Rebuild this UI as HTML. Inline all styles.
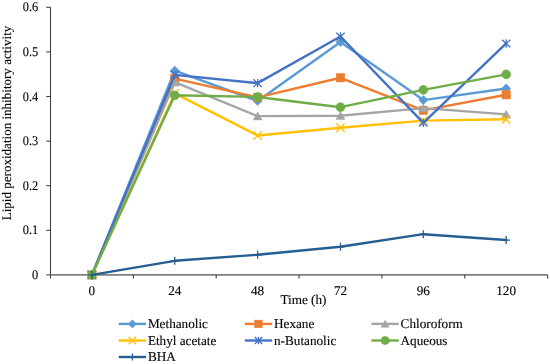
<!DOCTYPE html>
<html><head><meta charset="utf-8"><style>
html,body{margin:0;padding:0;background:#fff;width:550px;height:364px;overflow:hidden}
svg{display:block;will-change:transform}
.t{font-family:"Liberation Serif",serif;font-size:13.2px;fill:#000;stroke:#000;stroke-width:0.12px;text-rendering:geometricPrecision}
.ty{font-family:"Liberation Serif",serif;font-size:13.05px;fill:#000;stroke:#000;stroke-width:0.12px;text-rendering:geometricPrecision}
</style></head><body>
<svg width="550" height="364" viewBox="0 0 550 364">
<line x1="50.5" y1="7.3" x2="50.5" y2="278.6" stroke="#3a3a3a" stroke-width="1.0"/>
<line x1="46.3" y1="274.90" x2="50.5" y2="274.90" stroke="#404040" stroke-width="1.1"/>
<line x1="46.3" y1="230.30" x2="50.5" y2="230.30" stroke="#404040" stroke-width="1.1"/>
<line x1="46.3" y1="185.70" x2="50.5" y2="185.70" stroke="#404040" stroke-width="1.1"/>
<line x1="46.3" y1="141.10" x2="50.5" y2="141.10" stroke="#404040" stroke-width="1.1"/>
<line x1="46.3" y1="96.50" x2="50.5" y2="96.50" stroke="#404040" stroke-width="1.1"/>
<line x1="46.3" y1="51.90" x2="50.5" y2="51.90" stroke="#404040" stroke-width="1.1"/>
<line x1="46.3" y1="7.30" x2="50.5" y2="7.30" stroke="#404040" stroke-width="1.1"/>
<line x1="50.5" y1="274.9" x2="547.60" y2="274.9" stroke="#7f7f7f" stroke-width="1.6"/>
<line x1="133.35" y1="274.9" x2="133.35" y2="278.6" stroke="#404040" stroke-width="1.1"/>
<line x1="216.20" y1="274.9" x2="216.20" y2="278.6" stroke="#404040" stroke-width="1.1"/>
<line x1="299.05" y1="274.9" x2="299.05" y2="278.6" stroke="#404040" stroke-width="1.1"/>
<line x1="381.90" y1="274.9" x2="381.90" y2="278.6" stroke="#404040" stroke-width="1.1"/>
<line x1="464.75" y1="274.9" x2="464.75" y2="278.6" stroke="#404040" stroke-width="1.1"/>
<line x1="547.60" y1="274.9" x2="547.60" y2="278.6" stroke="#404040" stroke-width="1.1"/>
<text transform="translate(38.2,279.00) scale(0.935,1)" text-anchor="end" class="t">0</text>
<text transform="translate(38.2,234.40) scale(0.935,1)" text-anchor="end" class="t">0.1</text>
<text transform="translate(38.2,189.80) scale(0.935,1)" text-anchor="end" class="t">0.2</text>
<text transform="translate(38.2,145.20) scale(0.935,1)" text-anchor="end" class="t">0.3</text>
<text transform="translate(38.2,100.60) scale(0.935,1)" text-anchor="end" class="t">0.4</text>
<text transform="translate(38.2,56.00) scale(0.935,1)" text-anchor="end" class="t">0.5</text>
<text transform="translate(38.2,11.40) scale(0.935,1)" text-anchor="end" class="t">0.6</text>
<text x="91.92" y="294.6" text-anchor="middle" class="t">0</text>
<text x="174.77" y="294.6" text-anchor="middle" class="t">24</text>
<text x="257.62" y="294.6" text-anchor="middle" class="t">48</text>
<text x="340.47" y="294.6" text-anchor="middle" class="t">72</text>
<text x="423.32" y="294.6" text-anchor="middle" class="t">96</text>
<text x="506.17" y="294.6" text-anchor="middle" class="t">120</text>
<text x="303.4" y="304.2" text-anchor="middle" class="t">Time (h)</text>
<text transform="translate(11.2,123) rotate(-90)" text-anchor="middle" class="ty">Lipid peroxidation inhibitory activity</text>
<polyline points="91.92,274.90 174.77,70.63 257.62,100.96 340.47,42.09 423.32,100.07 506.17,88.47" fill="none" stroke="#5B9BD5" stroke-width="2.4" stroke-linejoin="round" stroke-linecap="round"/>
<path d="M91.92 270.30L96.52 274.90L91.92 279.50L87.33 274.90Z" fill="#5B9BD5" stroke="#5B9BD5" stroke-width="0.5"/>
<path d="M174.77 66.03L179.37 70.63L174.77 75.23L170.17 70.63Z" fill="#5B9BD5" stroke="#5B9BD5" stroke-width="0.5"/>
<path d="M257.62 96.36L262.23 100.96L257.62 105.56L253.03 100.96Z" fill="#5B9BD5" stroke="#5B9BD5" stroke-width="0.5"/>
<path d="M340.47 37.49L345.07 42.09L340.47 46.69L335.87 42.09Z" fill="#5B9BD5" stroke="#5B9BD5" stroke-width="0.5"/>
<path d="M423.32 95.47L427.93 100.07L423.32 104.67L418.72 100.07Z" fill="#5B9BD5" stroke="#5B9BD5" stroke-width="0.5"/>
<path d="M506.17 83.87L510.77 88.47L506.17 93.07L501.57 88.47Z" fill="#5B9BD5" stroke="#5B9BD5" stroke-width="0.5"/>
<polyline points="91.92,274.90 174.77,78.66 257.62,97.39 340.47,77.77 423.32,110.33 506.17,94.72" fill="none" stroke="#ED7D31" stroke-width="2.4" stroke-linejoin="round" stroke-linecap="round"/>
<rect x="87.72" y="270.70" width="8.40" height="8.40" fill="#ED7D31" stroke="#ED7D31" stroke-width="0.5"/>
<rect x="170.57" y="74.46" width="8.40" height="8.40" fill="#ED7D31" stroke="#ED7D31" stroke-width="0.5"/>
<rect x="253.43" y="93.19" width="8.40" height="8.40" fill="#ED7D31" stroke="#ED7D31" stroke-width="0.5"/>
<rect x="336.27" y="73.57" width="8.40" height="8.40" fill="#ED7D31" stroke="#ED7D31" stroke-width="0.5"/>
<rect x="419.12" y="106.13" width="8.40" height="8.40" fill="#ED7D31" stroke="#ED7D31" stroke-width="0.5"/>
<rect x="501.97" y="90.52" width="8.40" height="8.40" fill="#ED7D31" stroke="#ED7D31" stroke-width="0.5"/>
<polyline points="91.92,274.90 174.77,82.23 257.62,116.12 340.47,115.68 423.32,108.10 506.17,114.34" fill="none" stroke="#A5A5A5" stroke-width="2.4" stroke-linejoin="round" stroke-linecap="round"/>
<path d="M91.92 270.90L96.42 278.70L87.42 278.70Z" fill="#A5A5A5" stroke="#A5A5A5" stroke-width="0.5"/>
<path d="M174.77 78.23L179.27 86.03L170.27 86.03Z" fill="#A5A5A5" stroke="#A5A5A5" stroke-width="0.5"/>
<path d="M257.62 112.12L262.12 119.92L253.12 119.92Z" fill="#A5A5A5" stroke="#A5A5A5" stroke-width="0.5"/>
<path d="M340.47 111.68L344.97 119.48L335.97 119.48Z" fill="#A5A5A5" stroke="#A5A5A5" stroke-width="0.5"/>
<path d="M423.32 104.10L427.82 111.90L418.82 111.90Z" fill="#A5A5A5" stroke="#A5A5A5" stroke-width="0.5"/>
<path d="M506.17 110.34L510.67 118.14L501.67 118.14Z" fill="#A5A5A5" stroke="#A5A5A5" stroke-width="0.5"/>
<polyline points="91.92,274.90 174.77,93.38 257.62,135.48 340.47,127.72 423.32,120.58 506.17,119.25" fill="none" stroke="#FFC000" stroke-width="2.4" stroke-linejoin="round" stroke-linecap="round"/>
<path d="M87.72 270.70L96.12 279.10M96.12 270.70L87.72 279.10" stroke="#FFC000" stroke-width="1.3" fill="none"/>
<path d="M170.57 89.18L178.97 97.58M178.97 89.18L170.57 97.58" stroke="#FFC000" stroke-width="1.3" fill="none"/>
<path d="M253.43 131.28L261.82 139.68M261.82 131.28L253.43 139.68" stroke="#FFC000" stroke-width="1.3" fill="none"/>
<path d="M336.27 123.52L344.67 131.92M344.67 123.52L336.27 131.92" stroke="#FFC000" stroke-width="1.3" fill="none"/>
<path d="M419.12 116.38L427.52 124.78M427.52 116.38L419.12 124.78" stroke="#FFC000" stroke-width="1.3" fill="none"/>
<path d="M501.97 115.05L510.37 123.45M510.37 115.05L501.97 123.45" stroke="#FFC000" stroke-width="1.3" fill="none"/>
<polyline points="91.92,274.90 174.77,74.87 257.62,83.12 340.47,36.51 423.32,122.81 506.17,43.43" fill="none" stroke="#4472C4" stroke-width="2.4" stroke-linejoin="round" stroke-linecap="round"/>
<path d="M87.72 271.12L96.12 278.68M96.12 271.12L87.72 278.68M91.92 270.70L91.92 279.10" stroke="#4472C4" stroke-width="1.3" fill="none"/>
<path d="M170.57 71.09L178.97 78.65M178.97 71.09L170.57 78.65M174.77 70.67L174.77 79.07" stroke="#4472C4" stroke-width="1.3" fill="none"/>
<path d="M253.43 79.34L261.82 86.90M261.82 79.34L253.43 86.90M257.62 78.92L257.62 87.32" stroke="#4472C4" stroke-width="1.3" fill="none"/>
<path d="M336.27 32.73L344.67 40.29M344.67 32.73L336.27 40.29M340.47 32.31L340.47 40.71" stroke="#4472C4" stroke-width="1.3" fill="none"/>
<path d="M419.12 119.03L427.52 126.59M427.52 119.03L419.12 126.59M423.32 118.61L423.32 127.01" stroke="#4472C4" stroke-width="1.3" fill="none"/>
<path d="M501.97 39.65L510.37 47.21M510.37 39.65L501.97 47.21M506.17 39.23L506.17 47.63" stroke="#4472C4" stroke-width="1.3" fill="none"/>
<polyline points="91.92,274.90 174.77,95.30 257.62,96.95 340.47,107.20 423.32,89.81 506.17,74.38" fill="none" stroke="#70AD47" stroke-width="2.4" stroke-linejoin="round" stroke-linecap="round"/>
<circle cx="91.92" cy="274.90" r="4.40" fill="#70AD47" stroke="#70AD47" stroke-width="0.75"/>
<circle cx="174.77" cy="95.30" r="4.40" fill="#70AD47" stroke="#70AD47" stroke-width="0.75"/>
<circle cx="257.62" cy="96.95" r="4.40" fill="#70AD47" stroke="#70AD47" stroke-width="0.75"/>
<circle cx="340.47" cy="107.20" r="4.40" fill="#70AD47" stroke="#70AD47" stroke-width="0.75"/>
<circle cx="423.32" cy="89.81" r="4.40" fill="#70AD47" stroke="#70AD47" stroke-width="0.75"/>
<circle cx="506.17" cy="74.38" r="4.40" fill="#70AD47" stroke="#70AD47" stroke-width="0.75"/>
<polyline points="91.92,274.90 174.77,260.81 257.62,254.79 340.47,246.80 423.32,234.18 506.17,240.02" fill="none" stroke="#255E91" stroke-width="2.4" stroke-linejoin="round" stroke-linecap="round"/>
<path d="M87.92 274.90L95.92 274.90M91.92 270.90L91.92 278.90" stroke="#255E91" stroke-width="1.25" fill="none"/>
<path d="M170.77 260.81L178.77 260.81M174.77 256.81L174.77 264.81" stroke="#255E91" stroke-width="1.25" fill="none"/>
<path d="M253.62 254.79L261.62 254.79M257.62 250.79L257.62 258.79" stroke="#255E91" stroke-width="1.25" fill="none"/>
<path d="M336.47 246.80L344.47 246.80M340.47 242.80L340.47 250.80" stroke="#255E91" stroke-width="1.25" fill="none"/>
<path d="M419.32 234.18L427.32 234.18M423.32 230.18L423.32 238.18" stroke="#255E91" stroke-width="1.25" fill="none"/>
<path d="M502.17 240.02L510.17 240.02M506.17 236.02L506.17 244.02" stroke="#255E91" stroke-width="1.25" fill="none"/>
<line x1="118.7" y1="323.9" x2="146.1" y2="323.9" stroke="#5B9BD5" stroke-width="2.4"/>
<path d="M132.40 319.76L136.54 323.90L132.40 328.04L128.26 323.90Z" fill="#5B9BD5" stroke="#5B9BD5" stroke-width="0.5"/>
<text x="147.90" y="327.90" class="t">Methanolic</text>
<line x1="244.8" y1="323.9" x2="272.2" y2="323.9" stroke="#ED7D31" stroke-width="2.4"/>
<rect x="254.72" y="320.12" width="7.56" height="7.56" fill="#ED7D31" stroke="#ED7D31" stroke-width="0.5"/>
<text x="274.00" y="327.90" class="t">Hexane</text>
<line x1="371.4" y1="323.9" x2="398.79999999999995" y2="323.9" stroke="#A5A5A5" stroke-width="2.4"/>
<path d="M385.10 320.30L389.15 327.32L381.05 327.32Z" fill="#A5A5A5" stroke="#A5A5A5" stroke-width="0.5"/>
<text x="400.60" y="327.90" class="t">Chloroform</text>
<line x1="118.7" y1="340.5" x2="146.1" y2="340.5" stroke="#FFC000" stroke-width="2.4"/>
<path d="M128.62 336.72L136.18 344.28M136.18 336.72L128.62 344.28" stroke="#FFC000" stroke-width="1.3" fill="none"/>
<text x="147.90" y="344.50" class="t">Ethyl acetate</text>
<line x1="244.8" y1="340.5" x2="272.2" y2="340.5" stroke="#4472C4" stroke-width="2.4"/>
<path d="M254.72 337.10L262.28 343.90M262.28 337.10L254.72 343.90M258.50 336.72L258.50 344.28" stroke="#4472C4" stroke-width="1.3" fill="none"/>
<text x="274.00" y="344.50" class="t">n-Butanolic</text>
<line x1="371.4" y1="340.5" x2="398.79999999999995" y2="340.5" stroke="#70AD47" stroke-width="2.4"/>
<circle cx="385.10" cy="340.50" r="3.96" fill="#70AD47" stroke="#70AD47" stroke-width="0.75"/>
<text x="400.60" y="344.50" class="t">Aqueous</text>
<line x1="118.7" y1="357.0" x2="146.1" y2="357.0" stroke="#255E91" stroke-width="2.4"/>
<path d="M128.80 357.00L136.00 357.00M132.40 353.40L132.40 360.60" stroke="#255E91" stroke-width="1.25" fill="none"/>
<text x="147.90" y="361.00" class="t">BHA</text>
</svg>
</body></html>
